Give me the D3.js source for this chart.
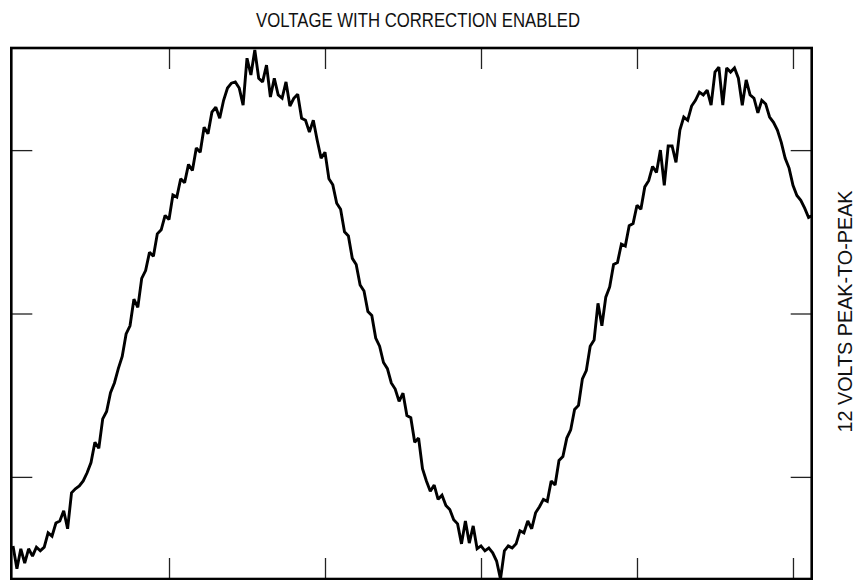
<!DOCTYPE html>
<html>
<head>
<meta charset="utf-8">
<script src="https://cdn.jsdelivr.net/npm/d3@7"></script>
<style>
  html, body { margin: 0; padding: 0; background: #fff; }
  svg { display: block; }
  text { font-family: "Liberation Sans Narrow", "Arial Narrow", "Liberation Sans", Arial, sans-serif; fill: #111; }
</style>
</head>
<body>
<svg id="chart" width="862" height="580"></svg>
<script>
// ---- data ----
const title = "VOLTAGE WITH CORRECTION ENABLED";
const yLabel = "12 VOLTS PEAK-TO-PEAK";
const tStart = -1.0;      // ms, time of first sample
const tStep = 0.025;      // ms between samples
const xTicks = [0, 1, 2, 3, 4];
const yTicks = [-4, 0, 4];
const xDomain = [-1.011, 4.12];
const yDomain = [-6.5, 6.5];
const volts = [
  -5.69, -6.25, -5.76, -6.11, -5.76, -5.94, -5.72, -5.81, -5.72, -5.37,
  -5.45, -5.13, -5.08, -4.83, -5.27, -4.39, -4.29, -4.22, -4.10, -3.90,
  -3.65, -3.15, -3.30, -2.58, -2.40, -1.94, -1.70, -1.35, -1.05, -0.50,
  -0.30, 0.35, 0.15, 0.86, 1.05, 1.50, 1.40, 1.95, 2.05, 2.40,
  2.30, 2.90, 2.85, 3.30, 3.20, 3.65, 3.50, 4.05, 3.95, 4.56,
  4.40, 4.93, 5.05, 4.78, 5.22, 5.52, 5.64, 5.67, 5.52, 5.10,
  6.25, 5.84, 6.45, 5.76, 5.67, 6.08, 5.30, 5.76, 5.35, 5.27,
  5.67, 5.08, 5.27, 5.37, 4.78, 4.73, 4.44, 4.73, 4.24, 3.80,
  3.95, 3.30, 3.15, 2.70, 2.55, 2.00, 1.90, 1.35, 1.20, 0.70,
  0.55, 0.05, -0.05, -0.60, -0.80, -1.20, -1.35, -1.70, -1.85, -2.15,
  -1.95, -2.50, -2.55, -3.15, -3.05, -3.80, -4.10, -4.35, -4.20, -4.55,
  -4.45, -4.70, -4.80, -5.05, -5.15, -5.64, -5.08, -5.62, -5.20, -5.76,
  -5.69, -5.81, -5.74, -5.86, -6.06, -6.50, -5.81, -5.69, -5.74, -5.64,
  -5.32, -5.37, -5.08, -5.27, -4.88, -4.73, -4.55, -4.60, -4.10, -4.20,
  -3.60, -3.50, -3.05, -2.85, -2.35, -2.25, -1.60, -1.40, -0.80, -0.65,
  0.25, -0.30, 0.40, 0.65, 1.20, 1.25, 1.70, 1.65, 2.15, 2.20,
  2.65, 2.55, 3.10, 3.25, 3.60, 3.45, 4.00, 3.14, 4.10, 4.10,
  3.70, 4.49, 4.81, 4.73, 5.08, 5.22, 5.42, 5.35, 5.47, 5.10,
  5.91, 6.03, 5.10, 6.01, 5.91, 6.01, 5.76, 5.10, 5.72, 5.35,
  5.27, 4.91, 5.22, 5.13, 4.81, 4.68, 4.49, 4.19, 3.80, 3.56,
  3.14, 2.89, 2.77, 2.58, 2.35, 2.40
];

// ---- layout ----
const svg = d3.select("#chart");
const frame = { left: 11.3, right: 811.7, top: 48, bottom: 579 };

const x = d3.scaleLinear().domain(xDomain).range([frame.left, frame.right]);
const y = d3.scaleLinear().domain(yDomain).range([frame.bottom, frame.top]);

const data = volts.map((v, i) => ({ t: tStart + i * tStep, v }));

// ticks (inward, no labels)
const tickLen = 21;
function styleAxis(g) {
  g.select(".domain").remove();
  g.selectAll(".tick line").attr("stroke", "#222").attr("stroke-width", 1.3);
  g.selectAll(".tick text").remove();
}
svg.append("g").attr("transform", `translate(0,${frame.bottom})`)
  .call(d3.axisBottom(x).tickValues(xTicks).tickSize(-tickLen).tickFormat("")).call(styleAxis);
svg.append("g").attr("transform", `translate(0,${frame.top})`)
  .call(d3.axisTop(x).tickValues(xTicks).tickSize(-tickLen).tickFormat("")).call(styleAxis);
svg.append("g").attr("transform", `translate(${frame.left},0)`)
  .call(d3.axisLeft(y).tickValues(yTicks).tickSize(-tickLen).tickFormat("")).call(styleAxis);
svg.append("g").attr("transform", `translate(${frame.right},0)`)
  .call(d3.axisRight(y).tickValues(yTicks).tickSize(-tickLen).tickFormat("")).call(styleAxis);

// signal
const clipId = "plotclip";
svg.append("clipPath").attr("id", clipId).append("rect")
  .attr("x", frame.left).attr("y", frame.top)
  .attr("width", frame.right - frame.left).attr("height", frame.bottom - frame.top);

svg.append("path")
  .datum(data)
  .attr("clip-path", `url(#${clipId})`)
  .attr("fill", "none")
  .attr("stroke", "#000")
  .attr("stroke-width", 2.9)
  .attr("stroke-linejoin", "miter")
  .attr("stroke-miterlimit", 2)
  .attr("d", d3.line().x(d => x(d.t)).y(d => y(d.v)));

// frame
svg.append("rect")
  .attr("x", frame.left).attr("y", frame.top)
  .attr("width", frame.right - frame.left).attr("height", frame.bottom - frame.top)
  .attr("fill", "none").attr("stroke", "#000").attr("stroke-width", 2.6);

// title
svg.append("text")
  .attr("x", 418).attr("y", 27)
  .attr("text-anchor", "middle")
  .attr("font-size", 20)
  .attr("textLength", 324).attr("lengthAdjust", "spacingAndGlyphs")
  .text(title);

// right label
svg.append("text")
  .attr("transform", `translate(852,${(frame.top + frame.bottom) / 2 - 2}) rotate(-90)`)
  .attr("text-anchor", "middle")
  .attr("font-size", 20)
  .attr("textLength", 242).attr("lengthAdjust", "spacingAndGlyphs")
  .text(yLabel);
</script>
</body>
</html>
